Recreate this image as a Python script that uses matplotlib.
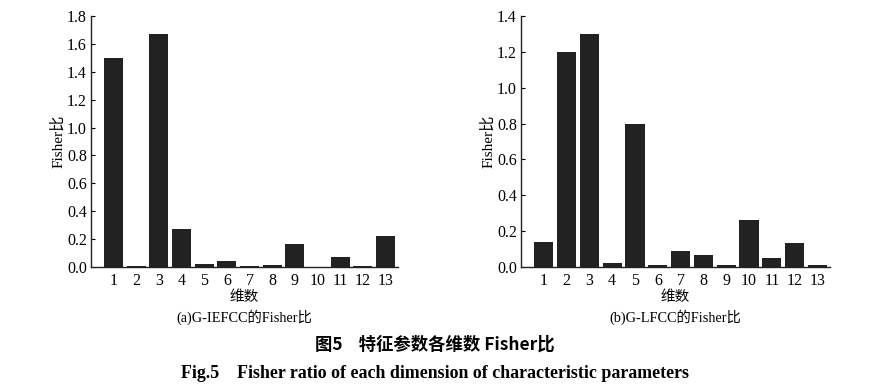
import matplotlib
matplotlib.use("Agg")
import matplotlib.pyplot as plt
import numpy as np

dims = list(range(1, 14))
tick_labels = [str(d) for d in dims]
iefcc_vals = [1.50, 0.005, 1.67, 0.27, 0.02, 0.045, 0.005, 0.015, 0.165, 0.003, 0.07, 0.005, 0.22]
lfcc_vals = [0.14, 1.20, 1.30, 0.02, 0.80, 0.01, 0.09, 0.065, 0.01, 0.26, 0.05, 0.135, 0.01]

serif = ['Liberation Serif', 'Noto Sans CJK SC']
cjk = ['Noto Sans CJK SC', 'Liberation Serif']
plt.rcParams['font.family'] = serif

fig = plt.figure(figsize=(8.7, 3.91), dpi=100)

def panel(rect, vals, ymax, yticks, caption):
    ax = fig.add_axes(rect)
    ax.bar(dims, vals, width=0.84, color='#222222')
    ax.set_xlim(0, 13.55)
    ax.set_ylim(0, ymax)
    ax.set_xticks(dims)
    ax.set_xticklabels(tick_labels)
    ax.set_yticks(yticks)
    ax.set_yticklabels([f"{t:.1f}" for t in yticks])
    ax.spines['top'].set_visible(False)
    ax.spines['right'].set_visible(False)
    for s in ('left', 'bottom'):
        ax.spines[s].set_linewidth(1.0)
        ax.spines[s].set_color('#222222')
    ax.tick_params(axis='y', direction='in', length=3, width=0.8, labelsize=11.5, pad=3)
    ax.tick_params(axis='x', length=0, labelsize=11.5, pad=4)
    ax.set_ylabel('Fisher比', fontsize=11, family=serif, labelpad=1)
    ax.set_xlabel('维数', fontsize=10.5, family=cjk, labelpad=1)
    cx = rect[0] + rect[2] / 2
    fig.text(cx, 1 - 317 / 391, caption, ha='center', va='center', fontsize=10.3, family=serif)
    return ax

panel([91 / 870, 1 - 267 / 391, 307 / 870, 251 / 391], iefcc_vals, 1.8,
      np.round(np.arange(0, 1.81, 0.2), 1), '(a)G-IEFCC的Fisher比')
panel([521 / 870, 1 - 267 / 391, 309 / 870, 251 / 391], lfcc_vals, 1.4,
      np.round(np.arange(0, 1.41, 0.2), 1), '(b)G-LFCC的Fisher比')

fig.text(0.5, 1 - 345 / 391, '图5    特征参数各维数 Fisher比', ha='center', va='center',
         fontsize=12.5, fontweight='bold', family=cjk)
fig.text(0.5, 1 - 373 / 391, 'Fig.5    Fisher ratio of each dimension of characteristic parameters',
         ha='center', va='center', fontsize=12.9, fontweight='bold', family=serif)

fig.savefig('out.png', dpi=100)
